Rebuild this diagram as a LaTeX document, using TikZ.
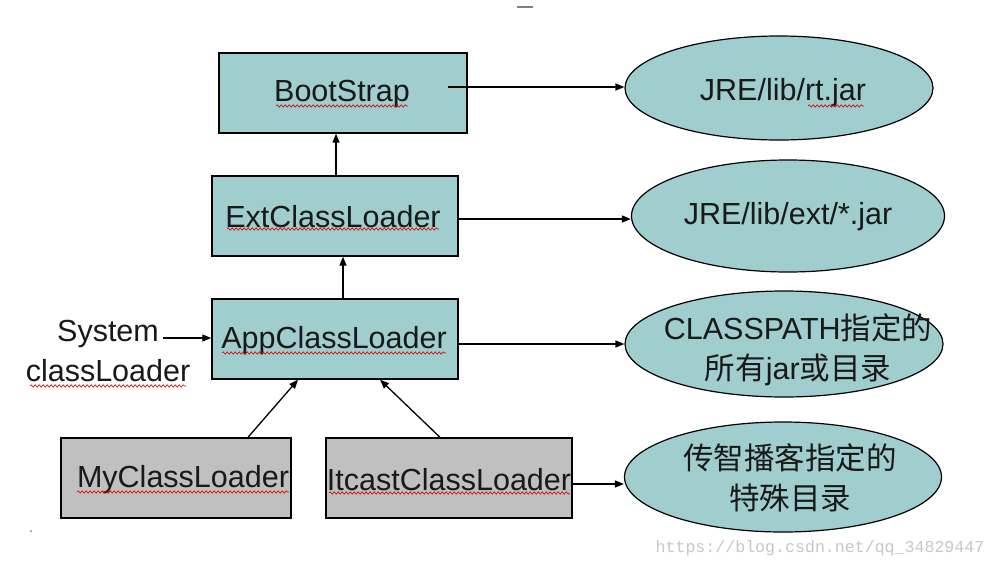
\documentclass[tikz,border=0pt]{standalone}
\usepackage{fontspec}
\setmainfont{Liberation Sans}
\newfontfamily\cjk{Noto Sans CJK SC}
\newfontfamily\wmfont{Liberation Mono}
\usetikzlibrary{arrows.meta,shapes.geometric,decorations.pathmorphing}
\definecolor{tealfill}{RGB}{160,205,205}
\definecolor{grayfill}{RGB}{192,192,192}
\begin{document}
\begin{tikzpicture}[x=1pt,y=-1pt,
  box/.style={draw=black,line width=1.4pt,rectangle,inner sep=0pt},
  tbox/.style={box,fill=tealfill},
  gbox/.style={box,fill=grayfill},
  oval/.style={draw=black,line width=1.2pt,ellipse,fill=tealfill,inner sep=0pt},
  lbl/.style={font=\fontsize{30.5}{40}\selectfont,inner sep=0pt,text=black!90,align=center},
  conn/.style={line width=1.3pt,-{Triangle[length=9pt,width=7pt]}},
  squig/.style={red!85!black,line width=0.6pt,decorate,decoration={snake,amplitude=1.2pt,segment length=4pt}}
]
\useasboundingbox (0,0) rectangle (996,568);
\fill[white] (0,0) rectangle (996,568);

% boxes
\node[tbox,minimum width=248pt,minimum height=80pt] (boot) at (343,93) {};
\node[tbox,minimum width=246pt,minimum height=80pt] (ext) at (335,216) {};
\node[tbox,minimum width=246pt,minimum height=80pt] (app) at (335,339) {};
\node[gbox,minimum width=230pt,minimum height=80pt] (my) at (176,478) {};
\node[gbox,minimum width=246pt,minimum height=80pt] (itc) at (449,478) {};

% box texts
\node[lbl] (tboot) at (342,94) {BootStrap};
\node[lbl] (text) at (333,217) {ExtClassLoader};
\node[lbl] (tapp) at (334,341) {AppClassLoader};
\node[lbl] (tmy) at (183,480) {MyClassLoader};
\node[lbl] (titc) at (449,480) {ItcastClassLoader};

% ellipses
\node[oval,minimum width=308pt,minimum height=104pt] (e1) at (779,88) {};
\node[oval,minimum width=313pt,minimum height=112pt] (e2) at (788,216) {};
\node[oval,minimum width=318pt,minimum height=106pt] (e3) at (784,344) {};
\node[oval,minimum width=317pt,minimum height=110pt] (e4) at (783,477) {};
\node[lbl] (t1) at (783,93) {JRE/lib/rt.jar};
\node[lbl] (t2) at (788,217) {JRE/lib/ext/*.jar};
\node[lbl] (t3) at (798,350) {CLASSPATH{\cjk 指定的}\\{\cjk 所有}jar{\cjk 或目录}};
\node[lbl] (t4) at (790,478) {\cjk 传智播客指定的\\\cjk 特殊目录};

% system classloader label
\node[lbl] (sys) at (108,351) {System\\classLoader};
\coordinate (sysend) at (163,338);
\coordinate (bootout) at (448,87);

% connectors
\draw[conn] (bootout) -- (e1.west |- bootout);
\draw[conn] (ext.east |- 0,219) -- (e2.west |- 0,219);
\draw[conn] (app.east |- 0,344) -- (e3.west |- 0,344);
\draw[conn] (itc.east |- 0,484) -- (e4.west |- 0,484);
\draw[conn] (ext.north -| 336,0) -- (boot.south -| 336,0);
\draw[conn] (app.north -| 343,0) -- (ext.south -| 343,0);
\draw[conn] (sysend) -- (app.west |- sysend);
\draw[conn] (my.north -| 248,0) -- (app.south -| 298,0);
\draw[conn] (itc.north -| 440,0) -- (app.south -| 380,0);

% spell-check squiggles
\draw[squig] (276,106) -- (408,106);
\draw[squig] (227,229) -- (439,229);
\draw[squig] (222,353) -- (446,353);
\draw[squig] (808,106) -- (864,106);
\draw[squig] (30,386) -- (186,386);
\draw[squig] (77,492) -- (289,492);
\draw[squig] (329,493) -- (570,493);

% watermark and marks
\node[font=\wmfont\fontsize{16.6}{18}\selectfont,text=black!22,inner sep=0pt] (wm) at (820,548) {https://blog.csdn.net/qq\_34829447};
\draw[gray,line width=1.2pt] (517,7) -- (533,7);
\fill[gray] (31,531) circle (1pt);
\end{tikzpicture}
\end{document}
